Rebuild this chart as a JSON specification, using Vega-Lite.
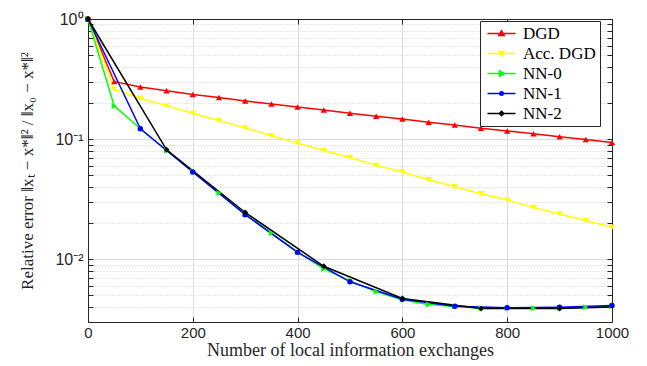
{
  "$schema": "https://vega.github.io/schema/vega-lite/v6.json",
  "width": 524,
  "height": 303,
  "autosize": {"type": "none"},
  "padding": {"left": 88, "top": 19, "right": 35, "bottom": 44},
  "background": "white",
  "config": {
    "view": {"stroke": "#262626", "strokeWidth": 1}
  },
  "datasets": {
    "curves": [
      {"series": "DGD", "x": 0, "y": 1},
      {"series": "DGD", "x": 50, "y": 0.301},
      {"series": "DGD", "x": 100, "y": 0.271},
      {"series": "DGD", "x": 150, "y": 0.253},
      {"series": "DGD", "x": 200, "y": 0.235},
      {"series": "DGD", "x": 250, "y": 0.222},
      {"series": "DGD", "x": 300, "y": 0.208},
      {"series": "DGD", "x": 350, "y": 0.196},
      {"series": "DGD", "x": 400, "y": 0.185},
      {"series": "DGD", "x": 450, "y": 0.175},
      {"series": "DGD", "x": 500, "y": 0.164},
      {"series": "DGD", "x": 550, "y": 0.155},
      {"series": "DGD", "x": 600, "y": 0.147},
      {"series": "DGD", "x": 650, "y": 0.138},
      {"series": "DGD", "x": 700, "y": 0.131},
      {"series": "DGD", "x": 750, "y": 0.123},
      {"series": "DGD", "x": 800, "y": 0.117},
      {"series": "DGD", "x": 850, "y": 0.111},
      {"series": "DGD", "x": 900, "y": 0.1045},
      {"series": "DGD", "x": 950, "y": 0.0993},
      {"series": "DGD", "x": 1000, "y": 0.0937},
      {"series": "Acc. DGD", "x": 0, "y": 1},
      {"series": "Acc. DGD", "x": 50, "y": 0.26},
      {"series": "Acc. DGD", "x": 100, "y": 0.219},
      {"series": "Acc. DGD", "x": 150, "y": 0.189},
      {"series": "Acc. DGD", "x": 200, "y": 0.164},
      {"series": "Acc. DGD", "x": 250, "y": 0.143},
      {"series": "Acc. DGD", "x": 300, "y": 0.124},
      {"series": "Acc. DGD", "x": 350, "y": 0.1065},
      {"series": "Acc. DGD", "x": 400, "y": 0.0926},
      {"series": "Acc. DGD", "x": 450, "y": 0.0804},
      {"series": "Acc. DGD", "x": 500, "y": 0.0703},
      {"series": "Acc. DGD", "x": 550, "y": 0.0604},
      {"series": "Acc. DGD", "x": 600, "y": 0.0532},
      {"series": "Acc. DGD", "x": 650, "y": 0.0459},
      {"series": "Acc. DGD", "x": 700, "y": 0.0401},
      {"series": "Acc. DGD", "x": 750, "y": 0.0351},
      {"series": "Acc. DGD", "x": 800, "y": 0.0311},
      {"series": "Acc. DGD", "x": 850, "y": 0.027},
      {"series": "Acc. DGD", "x": 900, "y": 0.0238},
      {"series": "Acc. DGD", "x": 950, "y": 0.0209},
      {"series": "Acc. DGD", "x": 1000, "y": 0.0185},
      {"series": "NN-0", "x": 0, "y": 1},
      {"series": "NN-0", "x": 50, "y": 0.189},
      {"series": "NN-0", "x": 100, "y": 0.122},
      {"series": "NN-0", "x": 150, "y": 0.0804},
      {"series": "NN-0", "x": 200, "y": 0.0535},
      {"series": "NN-0", "x": 250, "y": 0.0356},
      {"series": "NN-0", "x": 300, "y": 0.0237},
      {"series": "NN-0", "x": 350, "y": 0.0165},
      {"series": "NN-0", "x": 400, "y": 0.0115},
      {"series": "NN-0", "x": 450, "y": 0.0083},
      {"series": "NN-0", "x": 500, "y": 0.0066},
      {"series": "NN-0", "x": 550, "y": 0.00535},
      {"series": "NN-0", "x": 600, "y": 0.0046},
      {"series": "NN-0", "x": 650, "y": 0.0042},
      {"series": "NN-0", "x": 700, "y": 0.00403},
      {"series": "NN-0", "x": 750, "y": 0.0039},
      {"series": "NN-0", "x": 800, "y": 0.0039},
      {"series": "NN-0", "x": 850, "y": 0.0039},
      {"series": "NN-0", "x": 900, "y": 0.00392},
      {"series": "NN-0", "x": 950, "y": 0.00398},
      {"series": "NN-0", "x": 1000, "y": 0.00405},
      {"series": "NN-1", "x": 0, "y": 1},
      {"series": "NN-1", "x": 100, "y": 0.122},
      {"series": "NN-1", "x": 200, "y": 0.0532},
      {"series": "NN-1", "x": 300, "y": 0.0235},
      {"series": "NN-1", "x": 400, "y": 0.0114},
      {"series": "NN-1", "x": 500, "y": 0.00648},
      {"series": "NN-1", "x": 600, "y": 0.00464},
      {"series": "NN-1", "x": 700, "y": 0.00406},
      {"series": "NN-1", "x": 800, "y": 0.00394},
      {"series": "NN-1", "x": 900, "y": 0.00398},
      {"series": "NN-1", "x": 1000, "y": 0.00411},
      {"series": "NN-2", "x": 0, "y": 1},
      {"series": "NN-2", "x": 150, "y": 0.0815},
      {"series": "NN-2", "x": 300, "y": 0.0245},
      {"series": "NN-2", "x": 450, "y": 0.00873},
      {"series": "NN-2", "x": 600, "y": 0.00471},
      {"series": "NN-2", "x": 750, "y": 0.00388},
      {"series": "NN-2", "x": 900, "y": 0.00388},
      {"series": "NN-2", "x": 1000, "y": 0.004}
    ]
  },
  "data": {"name": "curves"},
  "encoding": {
    "x": {"field": "x", "type": "quantitative", "scale": {"domain": [0, 1000], "nice": false}},
    "y": {"field": "y", "type": "quantitative", "scale": {"type": "log", "domain": [0.003, 1], "nice": false}},
    "color": {
      "field": "series",
      "type": "nominal",
      "scale": {
        "domain": ["DGD", "Acc. DGD", "NN-0", "NN-1", "NN-2"],
        "range": ["#ff0000", "#ffff00", "#00ff00", "#0000ff", "#000000"]
      },
      "legend": {
        "orient": "none",
        "legendX": 392,
        "legendY": 2,
        "title": null,
        "labelFont": "Liberation Serif",
        "labelFontSize": 17,
        "labelColor": "#000000",
        "labelOffset": 22,
        "strokeColor": "#262626",
        "fillColor": "white",
        "padding": 4,
        "rowPadding": 2,
        "symbolSize": 100,
        "symbolStrokeWidth": 1.5,
        "symbolOpacity": 1,
        "encode": {
          "labels": {
            "update": {
              "font": {"value": "Liberation Serif"},
              "fontSize": {"value": 17}
            }
          },
          "symbols": {
            "update": {
              "shape": {"signal": "datum.value === 'DGD' ? 'M-1,0H4.6M1.8,-0.55L2.35,0.4L1.25,0.4Z' : datum.value === 'Acc. DGD' ? 'M-1,0H4.6M1.8,0.55L2.35,-0.4L1.25,-0.4Z' : datum.value === 'NN-0' ? 'M-1,0H4.6M2.35,0L1.4,0.55L1.4,-0.55Z' : datum.value === 'NN-1' ? 'M-1,0H4.6M2.15,0A0.35,0.35,0,1,1,1.45,0A0.35,0.35,0,1,1,2.15,0Z' : 'M-1,0H4.6M1.8,-0.45L2.25,0L1.8,0.45L1.35,0Z'"},
              "fill": {"scale": "color", "field": "value"},
              "stroke": {"scale": "color", "field": "value"},
              "strokeWidth": {"value": 1.5},
              "opacity": {"value": 1},
              "size": {"value": 100}
            }
          }
        }
      }
    }
  },
  "layer": [
    {
      "mark": {"type": "line", "strokeWidth": 1.5},
      "encoding": {
        "x": {
          "field": "x", "type": "quantitative",
          "axis": {
            "orient": "bottom",
            "values": [0, 200, 400, 600, 800, 1000],
            "format": "d",
            "title": "Number of local information exchanges",
            "titleFont": "Liberation Serif",
            "titleFontSize": 18,
            "titleFontWeight": "normal",
            "titleColor": "#262626",
            "titlePadding": 1,
            "labelFont": "Liberation Sans",
            "labelFontSize": 15,
            "labelColor": "#262626",
            "labelPadding": 8,
            "tickSize": -5,
            "tickColor": "#262626",
            "domainColor": "#262626",
            "grid": true,
            "gridColor": "#dcdcdc",
            "gridWidth": 1,
            "labelFlush": false
          }
        },
        "y": {
          "field": "y", "type": "quantitative",
          "axis": {
            "orient": "left",
            "values": [0.003, 0.004, 0.005, 0.006, 0.007, 0.008, 0.009, 0.01, 0.02, 0.03, 0.04, 0.05, 0.06, 0.07, 0.08, 0.09, 0.1, 0.2, 0.3, 0.4, 0.5, 0.6, 0.7, 0.8, 0.9, 1],
            "labelExpr": "datum.value == 1 ? '10⁰' : (abs(datum.value - 0.1) < 1e-9 ? '10⁻¹' : (abs(datum.value - 0.01) < 1e-9 ? '10⁻²' : ''))",
            "title": "Relative error  ‖xₜ − x*‖² / ‖x₀ − x*‖²",
            "titleFont": "Liberation Serif",
            "titleFontSize": 17,
            "titleFontWeight": "normal",
            "titleColor": "#262626",
            "titlePadding": 18,
            "labelFont": "Liberation Sans",
            "labelFontSize": 16,
            "labelColor": "#262626",
            "labelPadding": 10,
            "tickSize": -5,
            "tickColor": "#262626",
            "domainColor": "#262626",
            "grid": true,
            "gridColor": {"condition": {"test": "datum.value == 1 || abs(datum.value - 0.1) < 1e-9 || abs(datum.value - 0.01) < 1e-9", "value": "#dcdcdc"}, "value": "#d0d0d0"},
            "gridDash": {"condition": {"test": "datum.value == 1 || abs(datum.value - 0.1) < 1e-9 || abs(datum.value - 0.01) < 1e-9", "value": []}, "value": [1, 2]},
            "labelFlush": false,
            "labelOverlap": false
          }
        }
      }
    },
    {
      "transform": [{"filter": "datum.series == 'DGD'"}],
      "mark": {"type": "point", "filled": true, "opacity": 1, "shape": "triangle-up", "size": 40},
      "encoding": {
        "x": {
          "field": "x", "type": "quantitative",
          "axis": {"orient": "top", "values": [0, 200, 400, 600, 800, 1000], "labels": false, "title": null, "tickSize": -5, "tickColor": "#262626", "domainColor": "#262626", "grid": false}
        },
        "y": {
          "field": "y", "type": "quantitative",
          "axis": {"orient": "right", "values": [0.003, 0.004, 0.005, 0.006, 0.007, 0.008, 0.009, 0.01, 0.02, 0.03, 0.04, 0.05, 0.06, 0.07, 0.08, 0.09, 0.1, 0.2, 0.3, 0.4, 0.5, 0.6, 0.7, 0.8, 0.9, 1], "labels": false, "title": null, "tickSize": -5, "tickColor": "#262626", "domainColor": "#262626", "grid": false}
        }
      }
    },
    {
      "transform": [{"filter": "datum.series == 'Acc. DGD'"}],
      "mark": {"type": "point", "filled": true, "opacity": 1, "shape": "triangle-down", "size": 40},
      "encoding": {
        "x": {"field": "x", "type": "quantitative", "axis": null},
        "y": {"field": "y", "type": "quantitative", "axis": null}
      }
    },
    {
      "transform": [{"filter": "datum.series == 'NN-0'"}],
      "mark": {"type": "point", "filled": true, "opacity": 1, "shape": "triangle-right", "size": 36},
      "encoding": {
        "x": {"field": "x", "type": "quantitative", "axis": null},
        "y": {"field": "y", "type": "quantitative", "axis": null}
      }
    },
    {
      "transform": [{"filter": "datum.series == 'NN-1'"}],
      "mark": {"type": "point", "filled": true, "opacity": 1, "shape": "circle", "size": 30},
      "encoding": {
        "x": {"field": "x", "type": "quantitative", "axis": null},
        "y": {"field": "y", "type": "quantitative", "axis": null}
      }
    },
    {
      "transform": [{"filter": "datum.series == 'NN-2' && datum.x != 1000"}],
      "mark": {"type": "point", "filled": true, "opacity": 1, "shape": "diamond", "size": 34},
      "encoding": {
        "x": {"field": "x", "type": "quantitative", "axis": null},
        "y": {"field": "y", "type": "quantitative", "axis": null}
      }
    }
  ],
  "resolve": {"axis": {"x": "independent", "y": "independent"}}
}
